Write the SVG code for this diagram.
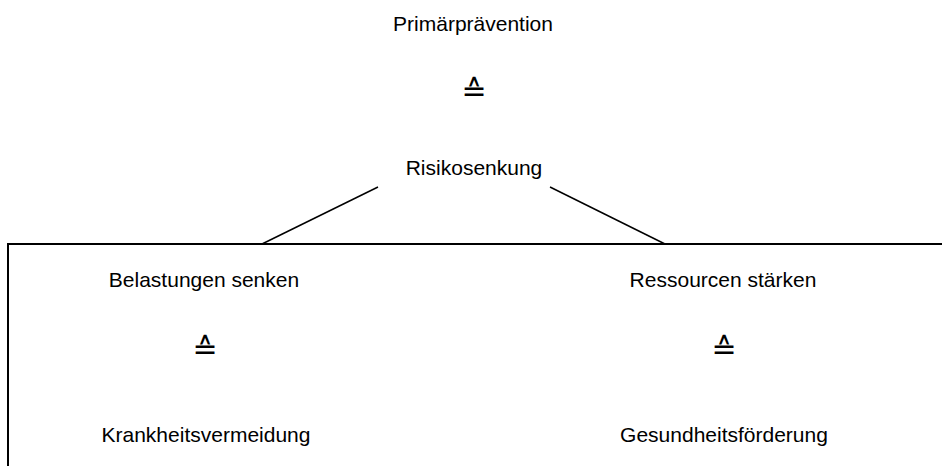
<svg xmlns="http://www.w3.org/2000/svg" width="942" height="466" viewBox="0 0 942 466">
<style>
  text { font-family: "Liberation Sans", Arial, sans-serif; font-size: 21px; fill: #000; text-anchor: middle; }
  .eq { font-family: "DejaVu Sans", sans-serif; font-size: 30px; }
  .ln { stroke: #000; stroke-width: 1.5; fill: none; }
  .box { stroke: #000; stroke-width: 2; fill: none; }
</style>
<rect width="942" height="466" fill="#fff"/>
<g id="connectors">
  <line class="ln" x1="378" y1="187" x2="262" y2="244"/>
  <line class="ln" x1="550" y1="187" x2="665" y2="244"/>
  <polyline class="box" points="8,466 8,244 942,244"/>
</g>
<g id="primaerpraevention">
  <text x="473" y="31">Primärprävention</text>
  <text class="eq" x="474" y="101">≙</text>
</g>
<g id="risikosenkung">
  <text x="474" y="175">Risikosenkung</text>
</g>
<g id="belastungen">
  <text x="204" y="287">Belastungen senken</text>
  <text class="eq" x="205" y="359">≙</text>
  <text x="206" y="442">Krankheitsvermeidung</text>
</g>
<g id="ressourcen">
  <text x="723" y="287">Ressourcen stärken</text>
  <text class="eq" x="724" y="359">≙</text>
  <text x="724" y="442">Gesundheitsförderung</text>
</g>
</svg>
